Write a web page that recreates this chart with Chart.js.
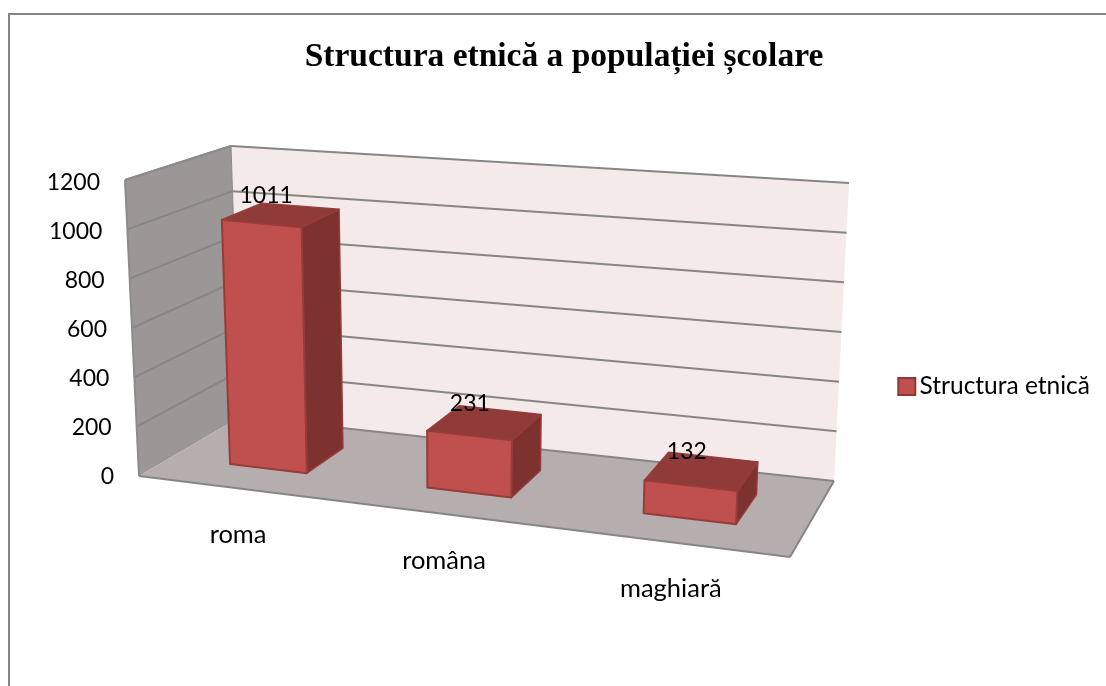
<!DOCTYPE html>
<html>
<head>
<meta charset="utf-8">
<title>Structura etnică a populației școlare</title>
<script src="https://cdn.jsdelivr.net/npm/chart.js@4"></script>
<style>
  html, body { margin: 0; padding: 0; background: #fff; overflow: hidden; }
  #frame { position: absolute; left: 8px; top: 13px; right: 0; bottom: 0; border-top: 2px solid #858585; border-left: 2px solid #858585; }
  #box { position: absolute; left: 22px; top: 0; width: 1084px; height: 686px; }
</style>
</head>
<body>
<div id="frame"></div>
<div id="box"><canvas id="test"></canvas></div>
<script>
var categories = ["roma", "româna", "maghiară"];
var seriesName = "Structura etnică";
var values = [1011, 231, 132];
var chartTitle = "Structura etnică a populației școlare";

var labelFont = "Lato";

// Corners of the 3D floor as seen in the picture (canvas pixels), front-left first
var floorQuad = [[117, 476], [768, 557], [812, 481], [218, 417]];
// how far the top of the value axis sits from each floor corner
var cornerLift = [[-14, -296], [13, -305], [15, -298], [-9, -271]];
// bars stand in the middle of the floor depth
var barFront = 0.3;
var barBack = 0.7;
var barShift = 0.005;

function homography(q){
  var dx1 = q[1][0] - q[2][0], dx2 = q[3][0] - q[2][0], sx = q[0][0] - q[1][0] + q[2][0] - q[3][0];
  var dy1 = q[1][1] - q[2][1], dy2 = q[3][1] - q[2][1], sy = q[0][1] - q[1][1] + q[2][1] - q[3][1];
  var det = dx1 * dy2 - dx2 * dy1;
  var g = (sx * dy2 - dx2 * sy) / det;
  var h = (dx1 * sy - sx * dy1) / det;
  var a = q[1][0] - q[0][0] + g * q[1][0], b = q[3][0] - q[0][0] + h * q[3][0];
  var d = q[1][1] - q[0][1] + g * q[1][1], e = q[3][1] - q[0][1] + h * q[3][1];
  return function(u, z){
    var w = g * u + h * z + 1;
    return [(a * u + b * z + q[0][0]) / w, (d * u + e * z + q[0][1]) / w];
  };
}
var onFloor = homography(floorQuad);

// u = across the categories, z = depth, v = share of the value axis
function project(u, z, v){
  var p = onFloor(u, z);
  var res = [0, 1].map(function(k){
    var lift = cornerLift[0][k] * (1 - u) * (1 - z) + cornerLift[1][k] * u * (1 - z) +
      cornerLift[2][k] * u * z + cornerLift[3][k] * (1 - u) * z;
    return p[k] + lift * v;
  });
  return res;
}

function poly(ctx, pts, fill, stroke, width){
  ctx.beginPath();
  pts.forEach(function(p, i){
    if (i == 0) ctx.moveTo(p[0], p[1]); else ctx.lineTo(p[0], p[1]);
  });
  ctx.closePath();
  ctx.fillStyle = fill;
  ctx.fill();
  if (stroke){
    ctx.strokeStyle = stroke;
    ctx.lineWidth = width;
    ctx.lineJoin = "round";
    ctx.stroke();
  }
}

function seg(ctx, a, b, color, width){
  ctx.beginPath();
  ctx.moveTo(a[0], a[1]);
  ctx.lineTo(b[0], b[1]);
  ctx.strokeStyle = color;
  ctx.lineWidth = width;
  ctx.stroke();
}

function shareOf(y, pixel){
  return (y.bottom - pixel) / (y.bottom - y.top);
}

var bars3d = {
  id: "bars3d",
  afterLayout: function(chart){
    // the legend sits level with the lower part of the box, not mid canvas
    chart.legend.top += 91;
    chart.legend.bottom += 91;
    chart.legend.left -= 6;
    chart.legend.right -= 6;
  },
  beforeDraw: function(chart){
    // value labels follow the slanted front edge of the left wall
    var y = chart.scales.y;
    y.getLabelItems().forEach(function(item, i){
      var v = shareOf(y, y.getPixelForValue(y.ticks[i].value));
      item.options.translation[0] = project(0, 0, v)[0] - 25;
      item.options.translation[1] = y.getPixelForValue(y.ticks[i].value) + 1;
    });
  },
  beforeDatasetsDraw: function(chart){
    var ctx = chart.ctx, y = chart.scales.y;
    ctx.save();
    poly(ctx, [project(0, 1, 0), project(1, 1, 0), project(1, 1, 1), project(0, 1, 1)], "#f5eaea");
    poly(ctx, [project(0, 0, 0), project(0, 1, 0), project(0, 1, 1), project(0, 0, 1)], "#9b9796");
    poly(ctx, [project(0, 0, 0), project(1, 0, 0), project(1, 1, 0), project(0, 1, 0)], "#b6aeae");
    y.ticks.forEach(function(t){
      var v = shareOf(y, y.getPixelForValue(t.value));
      if (v > 0) seg(ctx, project(0, 0, v), project(0, 1, v), "#868686", 2);
      seg(ctx, project(0, 1, v), project(1, 1, v), "#868686", 2);
    });
    seg(ctx, project(0, 0, 0), project(0, 0, 1), "#8c8c8c", 2);
    seg(ctx, project(0, 0, 1), project(0, 1, 1), "#8c8c8c", 2);
    seg(ctx, project(0, 1, 0), project(0, 1, 1), "#8c8c8c", 1);
    seg(ctx, project(0, 0, 0), project(1, 0, 0), "#868686", 2);
    seg(ctx, project(1, 0, 0), project(1, 1, 0), "#868686", 2);
    ctx.restore();
  },
  beforeDatasetDraw: function(chart, args){
    var ctx = chart.ctx, area = chart.chartArea, y = chart.scales.y;
    ctx.save();
    args.meta.data.forEach(function(bar){
      var u0 = (bar.x - bar.width / 2 - area.left) / area.width + barShift;
      var u1 = (bar.x + bar.width / 2 - area.left) / area.width + barShift;
      var v = shareOf(y, bar.y);
      var edge = "#963c39";
      poly(ctx, [project(u1, barFront, 0), project(u1, barBack, 0), project(u1, barBack, v), project(u1, barFront, v)], "#7d3230", edge, 1.5);
      poly(ctx, [project(u0, barFront, v), project(u1, barFront, v), project(u1, barBack, v), project(u0, barBack, v)], "#8f3b39", edge, 1.5);
      poly(ctx, [project(u0, barFront, 0), project(u1, barFront, 0), project(u1, barFront, v), project(u0, barFront, v)], "#c0504d", edge, 2);
    });
    ctx.restore();
    return false;
  },
  afterDatasetsDraw: function(chart){
    var ctx = chart.ctx, area = chart.chartArea, y = chart.scales.y, x = chart.scales.x;
    ctx.save();
    ctx.fillStyle = "#000";
    ctx.textAlign = "center";
    ctx.textBaseline = "middle";
    chart.getDatasetMeta(0).data.forEach(function(bar, i){
      var u = (bar.x - area.left) / area.width + barShift;
      var top = project(u, (barFront + barBack) / 2, shareOf(y, bar.y));
      ctx.font = "23px " + labelFont;
      ctx.fillText(values[i], top[0] - 15, top[1] - 19);
      // category names follow the slanted front edge of the floor
      var front = project((x.getPixelForTick(i) - area.left) / area.width, 0, 0);
      ctx.font = "25.5px " + labelFont;
      ctx.fillText(categories[i], front[0] + 3, front[1] + 47);
    });
    ctx.restore();
  }
};

var ctx = document.getElementById("test");
var myChart = new Chart(ctx, {
  type: "bar",
  data: {
    labels: categories,
    datasets: [
      {
        label: seriesName,
        data: values,
        backgroundColor: "#c0504d",
        borderColor: "#8c3836",
        borderWidth: 2,
        barPercentage: 0.4,
        categoryPercentage: 1
      }
    ]
  },
  options: {
    responsive: true,
    maintainAspectRatio: false,
    animation: false,
    layout: { padding: { bottom: 95 } },
    plugins: {
      title: {
        display: true,
        text: chartTitle,
        color: "#000",
        font: { family: "Liberation Serif", size: 33.5, weight: "bold", lineHeight: 1.2 },
        padding: { top: 37, bottom: 104 }
      },
      legend: {
        position: "right",
        labels: {
          color: "#000",
          font: { family: labelFont, size: 24.5 },
          // a thin slot keeps the swatch close to its text
          usePointStyle: true,
          pointStyle: "rect",
          boxWidth: 1,
          boxHeight: 17,
          padding: 16
        }
      },
      tooltip: { enabled: false }
    },
    scales: {
      x: {
        grid: { display: false },
        border: { display: false },
        ticks: { display: false },
        afterFit: function(scale){ scale.height = 115; }
      },
      y: {
        min: 0,
        max: 1200,
        grid: { display: false, drawTicks: false },
        border: { display: false },
        ticks: {
          stepSize: 200,
          padding: 10,
          color: "#000",
          font: { family: labelFont, size: 23 },
          callback: function(value){ return String(value); }
        },
        afterFit: function(scale){ scale.width = 103; }
      }
    }
  },
  plugins: [bars3d]
});
</script>
</body>
</html>
